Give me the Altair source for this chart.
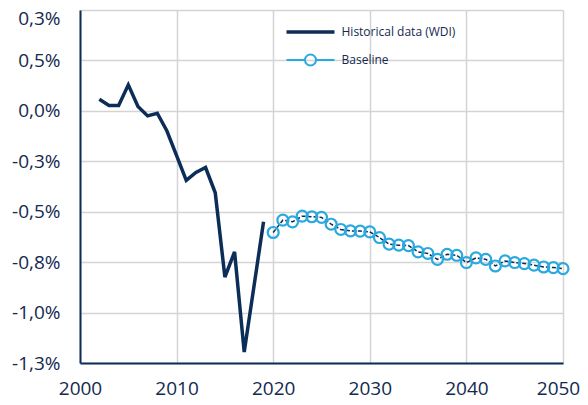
import altair as alt
import pandas as pd

# Historical data (WDI)
hist_years = [2002, 2003, 2004, 2005, 2006, 2007, 2008, 2009, 2010, 2011, 2012, 2013, 2014, 2015, 2016, 2017, 2019]
hist_values = [0.058, 0.027, 0.027, 0.129, 0.022, -0.025, -0.012, -0.100, -0.222, -0.345, -0.305, -0.281, -0.406, -0.824, -0.699, -1.196, -0.550]

# Baseline projection
base_years = list(range(2020, 2051))
base_values = [-0.603, -0.542, -0.550, -0.522, -0.525, -0.528, -0.562, -0.588, -0.595, -0.596,
               -0.600, -0.628, -0.661, -0.666, -0.668, -0.699, -0.707, -0.736, -0.711, -0.716,
               -0.752, -0.729, -0.736, -0.769, -0.744, -0.752, -0.757, -0.765, -0.774, -0.777, -0.782]

series_names = ["Historical data (WDI)", "Baseline"]
y_ticks = [-1.25, -1.0, -0.75, -0.5, -0.25, 0.0, 0.25, 0.5]
y_tick_labels = ["-1,3%", "-1,0%", "-0,8%", "-0,5%", "-0,3%", "0,0%", "0,5%", "0,3%"]
x_ticks = [2000, 2010, 2020, 2030, 2040, 2050]

NAVY = "#0b2d57"
SKY = "#2aa9df"
TEXT = "#13294f"
FONT = "Open Sans"

hist = pd.DataFrame({"year": hist_years, "value": hist_values, "series": series_names[0]})
base = pd.DataFrame({"year": base_years, "value": base_values, "series": series_names[1]})
both = pd.concat([hist, base], ignore_index=True)

label_expr = "[" + ",".join("'%s'" % s for s in y_tick_labels) + "][indexof([" + \
    ",".join(str(v) for v in y_ticks) + "], datum.value)]"

x_enc = alt.X("year:Q", scale=alt.Scale(domain=[2000, 2050], nice=False, zero=False),
              axis=alt.Axis(values=x_ticks, format="d", title=None, grid=True, labelFlush=False,
                            labelFont=FONT, labelFontSize=19, labelColor=TEXT,
                            labelPadding=16, tickSize=0, domainColor=NAVY, domainWidth=2,
                            gridColor="#d4d4d4", gridWidth=1.5,
                            labelOffset={"condition": {"test": "datum.value == 2050", "value": -5}, "value": 0}))
y_enc = alt.Y("value:Q", scale=alt.Scale(domain=[-1.25, 0.5], nice=False, zero=False),
              axis=alt.Axis(values=y_ticks, labelExpr=label_expr, title=None, grid=True, labelFlush=False,
                            labelFont=FONT, labelFontSize=19, labelColor=TEXT,
                            labelPadding=20, tickSize=0, domainColor=NAVY, domainWidth=2,
                            gridColor="#d4d4d4", gridWidth=1.5,
                            labelBaseline={"condition": {"test": "datum.value == 0.5", "value": "top"}, "value": "middle"},
                            labelOffset={"condition": {"test": "datum.value == 0.5", "value": -1}, "value": 0}))

hist_line = alt.Chart(hist).mark_line(color=NAVY, strokeWidth=3.5, strokeJoin="miter").encode(x=x_enc, y=y_enc)
base_line = alt.Chart(base).mark_line(color=NAVY, strokeWidth=1.5, strokeDash=[4, 2]).encode(x="year:Q", y="value:Q")
base_pts = alt.Chart(base).mark_point(color=SKY, filled=False, size=120, strokeWidth=2.2, opacity=1).encode(
    x="year:Q", y="value:Q")

r = 0.46
shape_hist = "M-2,0H2"
shape_base = ("M-2,0H-%s M%s,0H2 M-%s,0A%s,%s 0 1,0 %s,0A%s,%s 0 1,0 -%s,0" % (r, r, r, r, r, r, r, r, r))

def make_legend():
    return alt.Legend(title=None, orient="none", legendX=216.5, legendY=8,
                      symbolSize=576, symbolOpacity=1, labelOffset=17,
                      labelFont=FONT, labelFontSize=12, labelColor=TEXT,
                      rowPadding=8, padding=0, symbolFillColor="transparent")

legend_layer = alt.Chart(both).mark_point(opacity=0, filled=False).encode(
    x="year:Q", y="value:Q",
    color=alt.Color("series:N", scale=alt.Scale(domain=series_names, range=[NAVY, SKY]), legend=make_legend()),
    shape=alt.Shape("series:N", scale=alt.Scale(domain=series_names, range=[shape_hist, shape_base]),
                    legend=make_legend()),
    strokeWidth=alt.StrokeWidth("series:N", scale=alt.Scale(domain=series_names, range=[3.5, 2]),
                                legend=make_legend()),
)

chart = alt.layer(hist_line, base_line, base_pts, legend_layer).properties(
    width=483, height=353,
    autosize=alt.AutoSizeParams(type="none"),
    padding={"left": 72, "top": 2, "right": 17, "bottom": 40},
).configure_view(stroke=None).configure(background="white")

chart.save("out.html", embed_options={"renderer": "svg", "actions": False})
